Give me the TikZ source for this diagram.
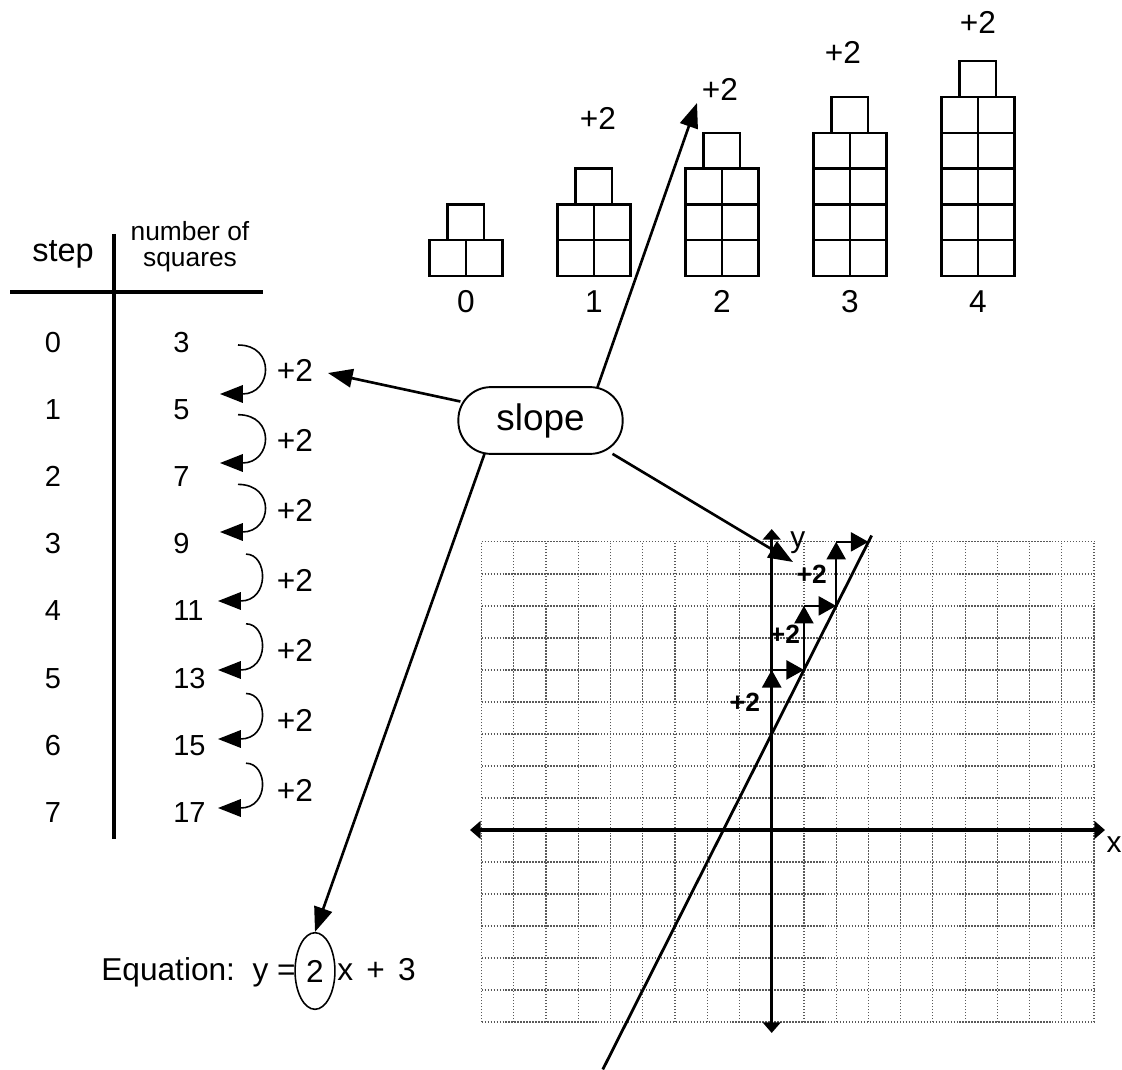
\documentclass[tikz,border=0pt]{standalone}
\usepackage{fontspec}
\setmainfont{Liberation Sans}
\usetikzlibrary{arrows.meta,calc,shapes.geometric}

\begin{document}
\begin{tikzpicture}[x=0.02cm, y=-0.02cm,
  txt/.style={inner sep=0pt, font=\fontsize{16.5}{18}\selectfont},
  plus/.style={inner sep=0pt, font=\fontsize{18}{20}\selectfont},
  sq/.style={draw, line width=1.4pt},
  arr/.style={-{Triangle[length=14pt,width=10.5pt]}, line width=1.5pt},
  curvarr/.style={-{Triangle[length=13pt,width=10pt]}, line width=0.9pt},
  gridln/.style={black!65, line width=0.7pt, dash pattern=on 0.8pt off 0.9pt},
  axis/.style={{Triangle[length=6pt,width=10pt]}-{Triangle[length=6pt,width=10pt]}, line width=1.8pt},
  stair/.style={-{Triangle[length=10pt,width=11pt]}, line width=0.8pt},
  boldtwo/.style={inner sep=0pt, font=\fontsize{15}{17}\selectfont\bfseries},
]
\useasboundingbox (0,0) rectangle (1122,1070);

% growing pattern, steps 0 to 4
\foreach \n in {0,...,4}{
  \pgfmathsetmacro{\L}{429.3+128*\n}
  \foreach \r in {0,...,\n}{
    \draw[sq] (\L,{276-35.8*\r}) rectangle +(36.5,-35.8);
    \draw[sq] ({\L+36.5},{276-35.8*\r}) rectangle +(36.5,-35.8);
  }
  \draw[sq] ({\L+18.25},{276-35.8*(\n+1)}) rectangle +(36.5,-35.8);
  \node[plus, anchor=base] (f\n) at ({\L+36.5},313) {\n};
}
\node[plus] (g1) at (598,118) {+2};
\node[plus] (g2) at (720,89) {+2};
\node[plus] (g3) at (843,52) {+2};
\node[plus] (g4) at (978,22) {+2};

% table
\node[inner sep=0pt, font=\fontsize{18.5}{20}\selectfont] (stephd) at (63,254) {step};
\node[inner sep=0pt, align=center, font=\fontsize{15}{14.7}\selectfont] (numhd) at (190,247) {number of\\squares};
\draw[line width=2.2pt] (10,291.6) -- (263,291.6);
\draw[line width=2.2pt] (114.3,234) -- (114.3,838.6);
\foreach \v [count=\k from 0] in {3,5,7,9,11,13,15,17}{
  \node[txt, anchor=base] (s\k) at (53,{353+67*\k}) {\k};
  \node[txt, anchor=base west] (v\k) at (173,{353+67*\k}) {\v};
}
\foreach \k/\xa/\xt/\ca in {0/238/220/38,1/238/220/38,2/238/220/38,3/246/218/22,4/246/218/22,5/246/218/22,6/246/218/22}{
  \coordinate (a\k) at (\xa,{345+69.7*\k});
  \coordinate (b\k) at (\xt,{394+69*\k});
  \draw[curvarr] (a\k) .. controls +(\ca,0) and +(52,0) .. (b\k);
  \node[plus] (p\k) at (295,{370+70*\k}) {+2};
}

% equation
\node[plus, anchor=base east] (eqL) at (296,980) {Equation:\ \ y =};
\node[draw, ellipse, line width=0.9pt, minimum width=22.7pt, minimum height=43.6pt, plus] (two) at (315,971) {2};
\node[plus, anchor=base west] (eqR) at (337,980) {x\hspace{0.42em}+\hspace{0.42em}3};

% coordinate plane
\begin{scope}[shift={(771.7,830)}, x=0.6448cm, y=0.6404cm]
  \foreach \i in {-9,...,10} \draw[gridln] (\i,-6) -- (\i,9);
  \foreach \j in {-6,...,9} \draw[gridln] (-9,\j) -- (10,\j);
  \draw[axis] (-9.36,0) -- (10.34,0);
  \draw[axis] (0,-6.34) -- (0,9.4);
  \node[inner sep=0pt, font=\fontsize{17}{19}\selectfont] (xlab) at (10.62,-0.47) {x};
  \node[inner sep=0pt, font=\fontsize{17}{19}\selectfont] (ylab) at (0.81,8.96) {y};
  \draw[line width=1.6pt] (-5.24,-7.48) -- (3.1,9.2);
  \foreach \i in {0,1,2}{
    \draw[stair] (\i,{3+2*\i}) -- (\i,{5+2*\i});
    \draw[stair] (\i,{5+2*\i}) -- ({\i+1},{5+2*\i});
  }
  \node[boldtwo] (r0) at (-0.83,4.0) {+2};
  \node[boldtwo] (r1) at (0.41,6.1) {+2};
  \node[boldtwo] (r2) at (1.24,8.0) {+2};
\end{scope}

% slope and its pointers
\node[draw, line width=1.1pt, rounded corners=18.5pt, minimum width=93.5pt, minimum height=38pt,
      inner sep=0pt, font=\fontsize{21}{23}\selectfont] (slope) at (540.5,420.5) {slope};
\coordinate (tblend) at (328,373);
\coordinate (figend) at (697,103);
\coordinate (yend) at (793,562);
\draw[arr] ($(slope.west)+(3,-19)$) -- (tblend);
\draw[arr] ($(slope.north)+(57,1)$) -- (figend);
\draw[arr] ($(slope.south)+(72,-1)$) -- (yend);
\draw[arr] ($(slope.south)+(-56,-1)$) -- (two.north);
\end{tikzpicture}
\end{document}
